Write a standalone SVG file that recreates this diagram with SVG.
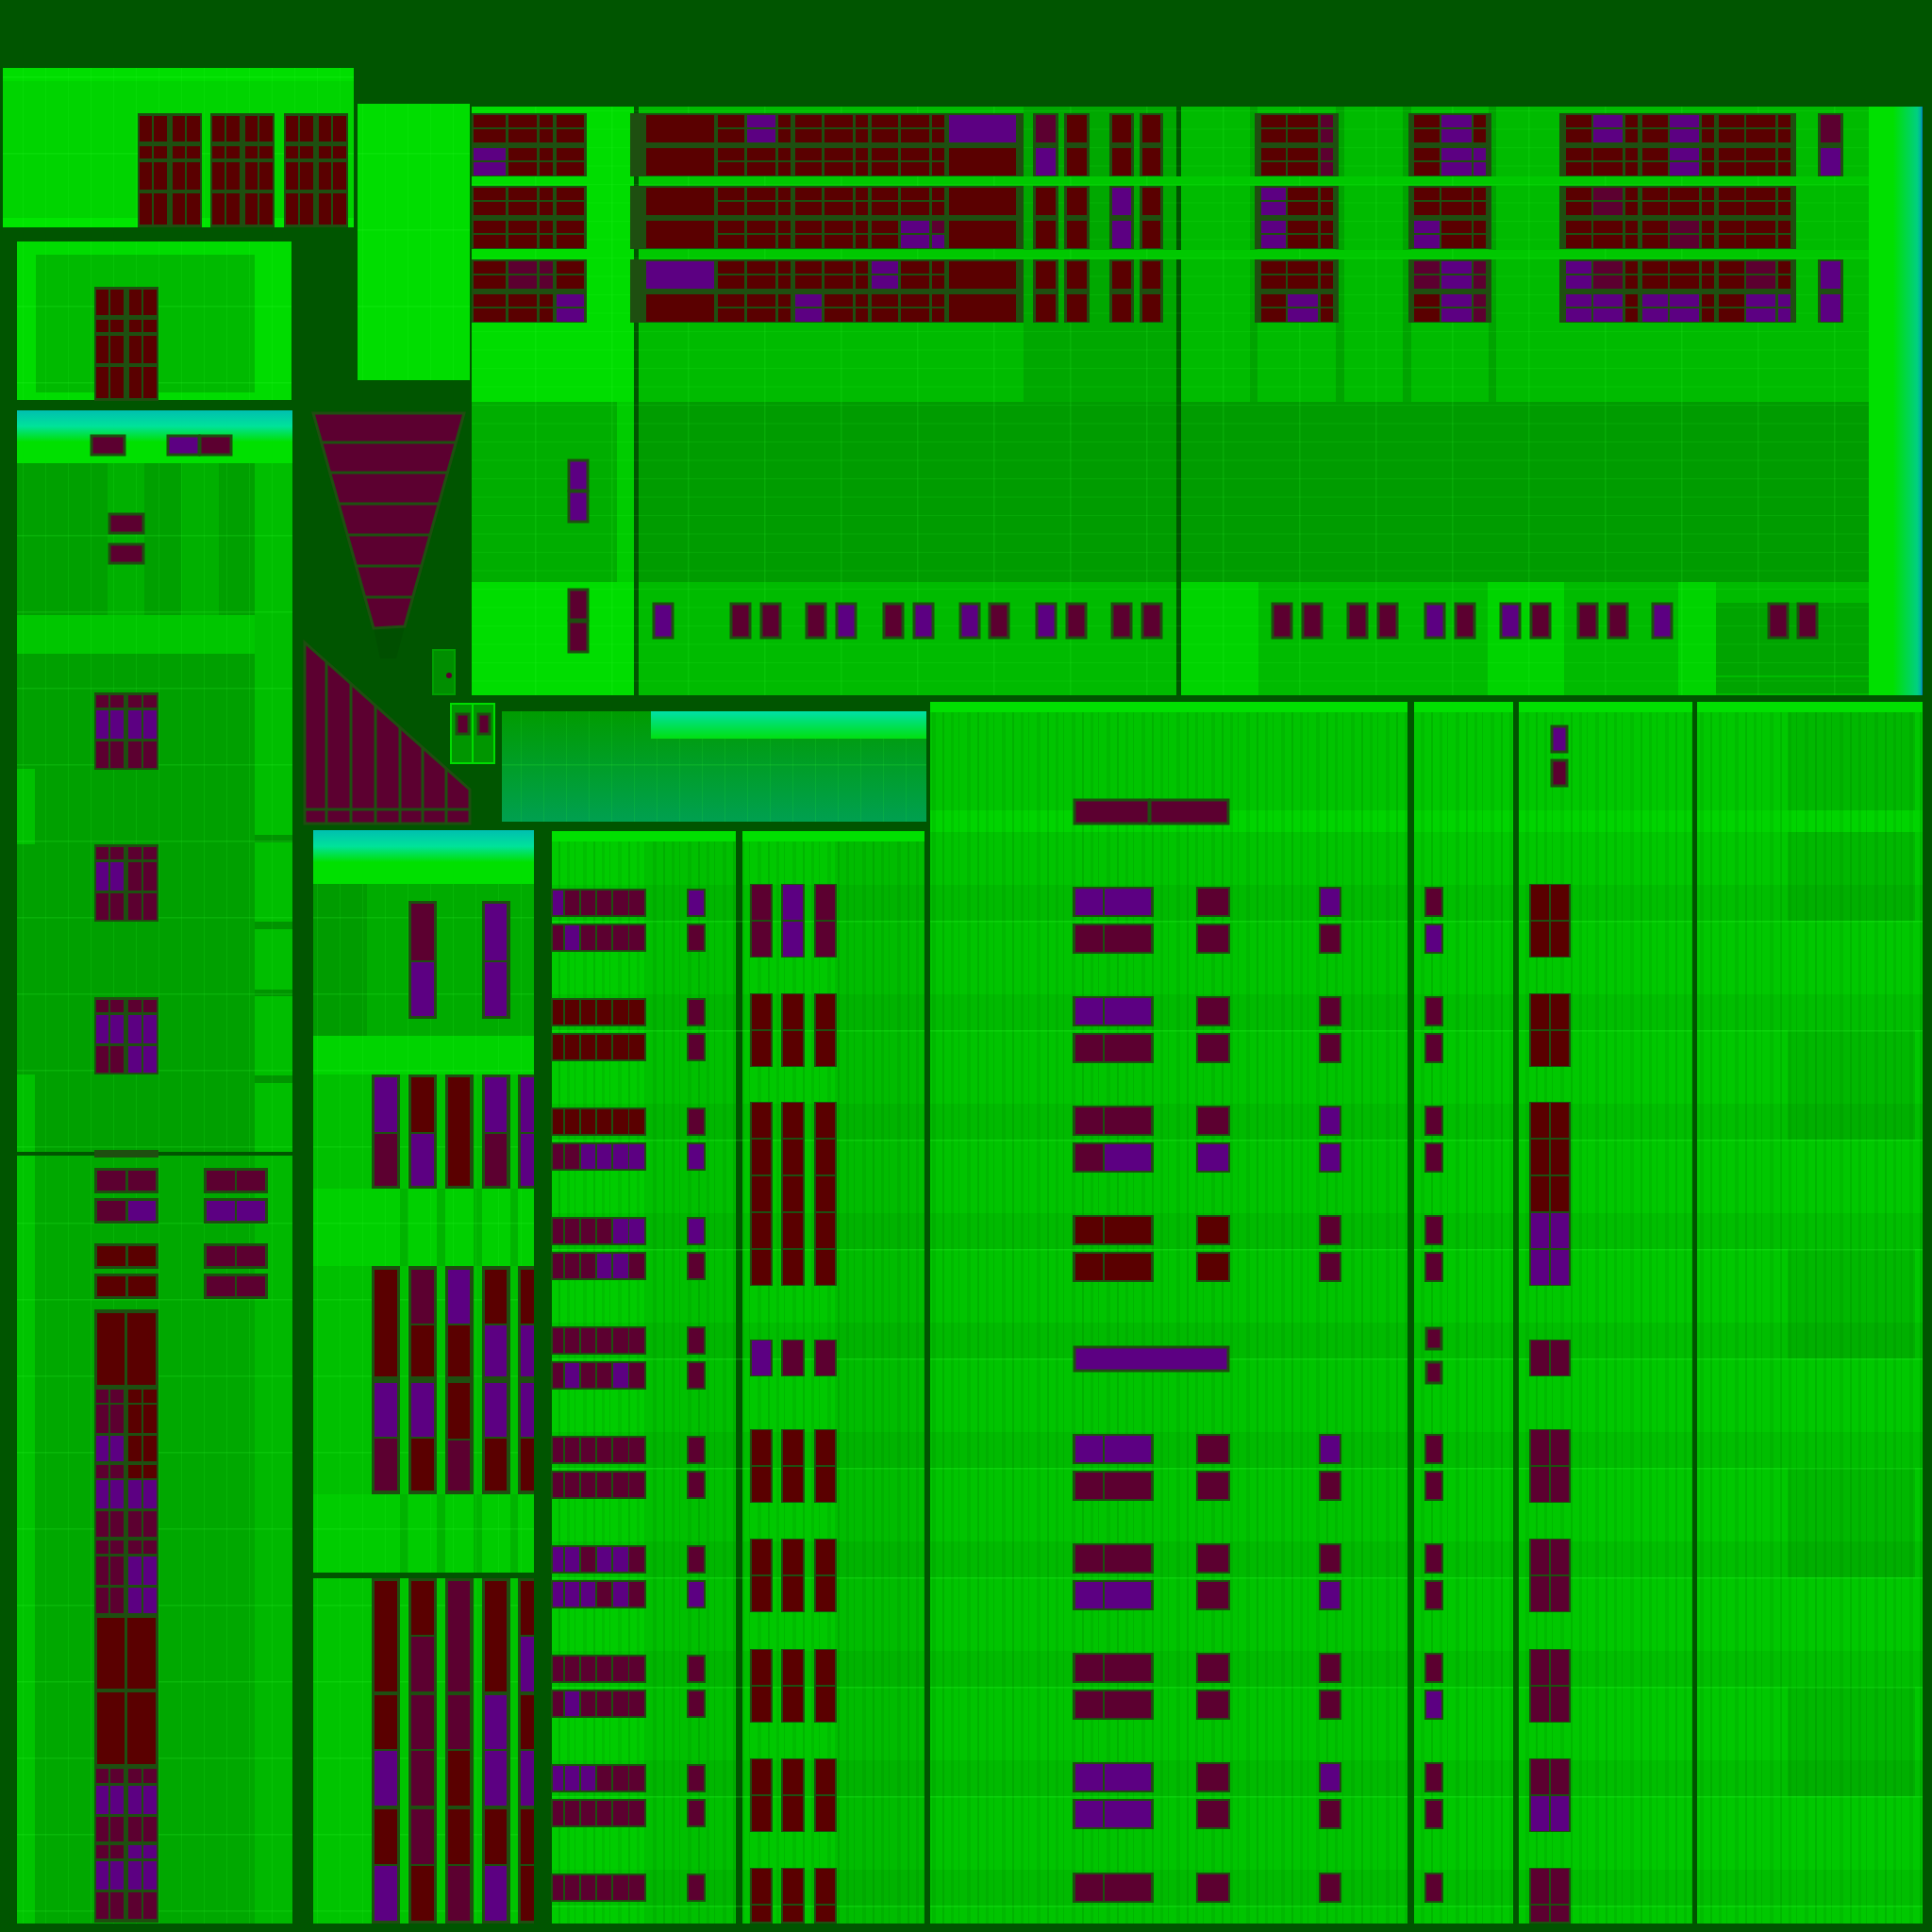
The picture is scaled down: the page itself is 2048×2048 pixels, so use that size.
<svg xmlns="http://www.w3.org/2000/svg" width="2048" height="2048" viewBox="0 0 2048 2048">
<style>
.r{fill:#5a0000}.m{fill:#5c0030}.p{fill:#5c0082}.k{fill:#1e4f10}
.s{stroke:#1e4f10;stroke-width:3}
.ln{stroke:#1e5010;stroke-width:3;fill:none}
</style>
<defs>
<linearGradient id="teal" x1="0" y1="0" x2="0" y2="1"><stop offset="0" stop-color="#00bfb0"/><stop offset=".3" stop-color="#00e29a"/><stop offset=".6" stop-color="#00e000"/><stop offset="1" stop-color="#00e000"/></linearGradient>
<linearGradient id="gG" x1="0" y1="0" x2="0" y2="1"><stop offset="0" stop-color="#009c00"/><stop offset="1" stop-color="#00a050"/></linearGradient>
<linearGradient id="cy" x1="0" y1="0" x2="0" y2="1"><stop offset="0" stop-color="#00e0a8"/><stop offset="1" stop-color="#00e010"/></linearGradient>
<linearGradient id="edge" x1="0" y1="0" x2="1" y2="0"><stop offset="0" stop-color="#00e000"/><stop offset=".45" stop-color="#00e000"/><stop offset=".9" stop-color="#00d080"/><stop offset=".97" stop-color="#00b0a0"/><stop offset="1" stop-color="#0070c0"/></linearGradient>
<pattern id="vs" width="37" height="10" patternUnits="userSpaceOnUse"><rect width="2" height="10" fill="#003000" opacity=".12"/><rect x="9" width="3" height="10" fill="#003000" opacity=".08"/><rect x="17" width="1" height="10" fill="#003000" opacity=".1"/><rect x="26" width="4" height="10" fill="#003000" opacity=".07"/></pattern>
<pattern id="gl" width="24" height="81" patternUnits="userSpaceOnUse"><rect width="1" height="81" fill="#30ff30" opacity=".12"/><rect width="24" height="1.5" fill="#30ff30" opacity=".18"/></pattern>
<pattern id="gf" width="81" height="19.5" patternUnits="userSpaceOnUse"><rect width="1.5" height="19.5" fill="#30ff30" opacity=".15"/><rect width="81" height="1" fill="#30ff30" opacity=".12"/></pattern>
<pattern id="hb" width="10" height="116" patternUnits="userSpaceOnUse"><rect y="48" width="10" height="1.5" fill="#30ff30" opacity=".25"/><rect y="10" width="10" height="38" fill="#006000" opacity=".1"/></pattern>
<g id="c4"><rect y="2" width="1" height="13"/><rect y="17" width="1" height="14"/><rect y="37" width="1" height="13"/><rect y="52" width="1" height="14"/></g>
<g id="c4x3"><use href="#c4"/><use href="#c4" y="77"/><use href="#c4" y="155"/></g>
<g id="c2"><rect y="2" width="1" height="29"/><rect y="37" width="1" height="29"/></g>
<g id="c2x3"><use href="#c2"/><use href="#c2" y="77"/><use href="#c2" y="155"/></g>
<g id="a4"><rect y="3" width="1" height="27"/><rect y="35" width="1" height="13"/><rect y="52" width="1" height="29"/><rect y="85" width="1" height="33"/></g>
<g id="memA"><rect class="k" width="68" height="121"/><g class="r"><use href="#a4" transform="translate(2,0) scale(13,1)"/><use href="#a4" transform="translate(17,0) scale(14,1)"/><use href="#a4" transform="translate(37,0) scale(13,1)"/><use href="#a4" transform="translate(52,0) scale(14,1)"/></g></g>
<g id="d3"><rect y="3" width="1" height="13"/><rect y="19" width="1" height="30"/><rect y="52" width="1" height="28"/></g>
<g id="memD"><rect class="k" width="68" height="82"/><g class="m"><use href="#d3" transform="translate(2,0) scale(13,1)"/><use href="#d3" transform="translate(17,0) scale(14,1)"/><use href="#d3" transform="translate(36,0) scale(14,1)"/><use href="#d3" transform="translate(52,0) scale(14,1)"/></g></g>
<g id="e2l"><rect x="102" width="13" height="1"/><rect x="117" width="14" height="1"/></g>
<g id="e2r"><rect x="136" width="14" height="1"/><rect x="152" width="14" height="1"/></g>
<g id="i6"><rect class="k" x="584" y="-2" width="101" height="30"/><rect x="586" width="11" height="26"/><rect x="599" width="15" height="26"/><rect x="616" width="15" height="26"/><rect x="633" width="15" height="26"/><rect x="650" width="16" height="26"/><rect x="667" width="16" height="26"/><rect class="k" x="728" y="-2" width="20" height="30"/><rect x="730" width="16" height="26"/></g>
<g id="h1"><rect class="k" x="1137" y="-2" width="86" height="32"/><rect x="1140" width="29" height="28"/><rect x="1171" width="49" height="28"/><rect class="k" x="1268" y="-2" width="36" height="32"/><rect x="1270" width="32" height="28"/><rect class="k" x="1398" y="-2" width="24" height="32"/><rect x="1400" width="20" height="28"/><rect class="k" x="1510" y="-2" width="20" height="32"/><rect x="1512" width="16" height="28"/></g>
<g id="h3r"><rect class="k" x="1621" y="-1" width="44" height="39"/><rect x="1623" width="19" height="37"/><rect x="1644" width="19" height="37"/></g>
<g id="i2r"><rect class="k" x="795" y="-1" width="24" height="39"/><rect x="797" width="20" height="37"/><rect class="k" x="828" y="-1" width="25" height="39"/><rect x="830" width="21" height="37"/><rect class="k" x="863" y="-1" width="24" height="39"/><rect x="865" width="20" height="37"/></g>
</defs>
<rect width="2048" height="2048" fill="#005500"/>

<g id="blockA">
<rect x="3" y="72" width="372" height="169" fill="#00d400"/>
<rect x="3" y="72" width="372" height="14" fill="#00de00"/>
<rect x="3" y="231" width="372" height="10" fill="#00e600"/>
<rect x="3" y="72" width="372" height="169" fill="url(#gl)"/>
<use href="#memA" x="146" y="120"/><use href="#memA" x="223" y="120"/><use href="#memA" x="301" y="120"/>
</g>
<g id="blockB">
<rect x="18" y="256" width="291" height="168" fill="#00dc00"/>
<rect x="38" y="270" width="232" height="146" fill="#00ba00"/>
<rect x="18" y="256" width="291" height="168" fill="url(#gl)"/>
<use href="#memA" x="100" y="304"/>
</g>
<g id="blockC">
<rect x="379" y="110" width="119" height="293" fill="#00dd00"/>
<rect x="379" y="110" width="119" height="293" fill="url(#gl)"/>
</g>

<g id="funnel">
<polygon points="396,666 429,664 420,698 403,698" fill="#004f00"/>
<polygon points="332,438 492,438 429,664 396,666" class="m s"/>
<path class="ln" d="M341 469H483M350 501H474M359 534H465M368 567H456M377 600H447M387 633H438"/>
</g>
<g id="stairs">
<polygon points="323,681 498,837 498,873 323,873" class="m s"/>
<path class="ln" d="M346 702V873M372 725V873M398 748V873M424 771V873M448 792V873M473 815V873M323 858H498"/>
</g>
<g id="door">
<rect x="459" y="689" width="23" height="47" fill="#008e00" stroke="#00a000" stroke-width="2"/>
<circle cx="476" cy="716" r="3" class="m"/>
</g>
<g id="dual">
<rect x="478" y="746" width="46" height="63" fill="#009600" stroke="#00dd00" stroke-width="2"/>
<path d="M501 746V809" stroke="#00dd00" stroke-width="2"/>
<rect class="m s" x="484" y="757" width="13" height="21"/>
<rect class="m s" x="507" y="757" width="12" height="21"/>
</g>

<g id="blockD">
<rect x="18" y="435" width="292" height="786" fill="#00a000"/>
<rect x="114" y="491" width="39" height="161" fill="#00b000"/>
<rect x="192" y="491" width="40" height="161" fill="#00b000"/>
<rect x="270" y="491" width="40" height="730" fill="#00be00"/>
<rect x="18" y="652" width="252" height="41" fill="#00c600"/>
<rect x="18" y="815" width="19" height="80" fill="#00c000"/>
<rect x="18" y="1139" width="19" height="82" fill="#00c000"/>
<rect x="270" y="885" width="40" height="8" fill="#009400"/>
<rect x="270" y="977" width="40" height="8" fill="#009400"/>
<rect x="270" y="1049" width="40" height="7" fill="#009400"/>
<rect x="270" y="1140" width="40" height="8" fill="#009400"/>
<rect x="18" y="435" width="292" height="786" fill="url(#gl)"/>
<rect x="18" y="435" width="292" height="56" fill="url(#teal)"/>
<rect class="m s" x="97" y="462" width="35" height="20"/>
<rect class="p s" x="178" y="462" width="33" height="20"/>
<rect class="m s" x="212" y="462" width="33" height="20"/>
<rect class="m s" x="116" y="545" width="36" height="20"/>
<rect class="m s" x="116" y="577" width="36" height="20"/>
<use href="#memD" x="100" y="734"/><use href="#memD" x="100" y="895"/><use href="#memD" x="100" y="1057"/>
<g class="p">
<rect x="102" y="753" width="13" height="30"/><rect x="117" y="753" width="14" height="30"/><rect x="136" y="753" width="14" height="30"/><rect x="152" y="753" width="14" height="30"/>
<rect x="102" y="914" width="13" height="30"/><rect x="117" y="914" width="14" height="30"/>
<rect x="102" y="1076" width="13" height="30"/><rect x="117" y="1076" width="14" height="30"/><rect x="136" y="1076" width="14" height="30"/><rect x="152" y="1076" width="14" height="30"/>
<rect x="136" y="1109" width="14" height="28"/><rect x="152" y="1109" width="14" height="28"/>
</g>
</g>

<g id="blockE">
<rect x="18" y="1225" width="292" height="814" fill="#00a800"/>
<rect x="18" y="1225" width="19" height="814" fill="#00c400"/>
<rect x="270" y="1225" width="40" height="814" fill="#00b800"/>
<rect x="18" y="1225" width="292" height="814" fill="url(#gl)"/>
<rect class="k" x="100" y="1219" width="68" height="8"/>
<rect class="k" x="100" y="1238" width="68" height="27"/><rect class="k" x="216" y="1238" width="68" height="27"/>
<rect class="k" x="100" y="1270" width="68" height="27"/><rect class="k" x="216" y="1270" width="68" height="27"/>
<rect class="k" x="100" y="1318" width="68" height="27"/><rect class="k" x="216" y="1318" width="68" height="27"/>
<rect class="k" x="100" y="1350" width="68" height="27"/><rect class="k" x="216" y="1350" width="68" height="27"/>
<rect class="m" x="103" y="1241" width="30" height="21"/><rect class="m" x="136" y="1241" width="29" height="21"/><rect class="m" x="219" y="1241" width="30" height="21"/><rect class="m" x="251" y="1241" width="30" height="21"/>
<rect class="m" x="103" y="1273" width="30" height="21"/><rect class="p" x="136" y="1273" width="29" height="21"/><rect class="p" x="219" y="1273" width="30" height="21"/><rect class="p" x="251" y="1273" width="30" height="21"/>
<rect class="r" x="103" y="1321" width="30" height="21"/><rect class="r" x="136" y="1321" width="29" height="21"/><rect class="m" x="219" y="1321" width="30" height="21"/><rect class="m" x="251" y="1321" width="30" height="21"/>
<rect class="r" x="103" y="1353" width="30" height="21"/><rect class="r" x="136" y="1353" width="29" height="21"/><rect class="m" x="219" y="1353" width="30" height="21"/><rect class="m" x="251" y="1353" width="30" height="21"/>
<rect class="k" x="100" y="1388" width="68" height="650"/>
<rect class="r" x="103" y="1392" width="29" height="76"/><rect class="r" x="135" y="1392" width="30" height="76"/>
<rect class="r" x="103" y="1715" width="29" height="75"/><rect class="r" x="135" y="1715" width="30" height="75"/>
<rect class="r" x="103" y="1794" width="29" height="76"/><rect class="r" x="135" y="1794" width="30" height="76"/>
<use href="#e2l" class="m" transform="translate(0,1473) scale(1,14)"/><use href="#e2r" class="r" transform="translate(0,1473) scale(1,14)"/>
<use href="#e2l" class="m" transform="translate(0,1489) scale(1,30)"/><use href="#e2r" class="r" transform="translate(0,1489) scale(1,30)"/>
<use href="#e2l" class="p" transform="translate(0,1522) scale(1,27)"/><use href="#e2r" class="r" transform="translate(0,1522) scale(1,27)"/>
<use href="#e2l" class="m" transform="translate(0,1553) scale(1,14)"/><use href="#e2r" class="r" transform="translate(0,1553) scale(1,14)"/>
<use href="#e2l" class="p" transform="translate(0,1569) scale(1,30)"/><use href="#e2r" class="p" transform="translate(0,1569) scale(1,30)"/>
<use href="#e2l" class="m" transform="translate(0,1602) scale(1,27)"/><use href="#e2r" class="m" transform="translate(0,1602) scale(1,27)"/>
<use href="#e2l" class="m" transform="translate(0,1633) scale(1,14)"/><use href="#e2r" class="m" transform="translate(0,1633) scale(1,14)"/>
<use href="#e2l" class="m" transform="translate(0,1650) scale(1,30)"/><use href="#e2r" class="p" transform="translate(0,1650) scale(1,30)"/>
<use href="#e2l" class="m" transform="translate(0,1683) scale(1,27)"/><use href="#e2r" class="p" transform="translate(0,1683) scale(1,27)"/>
<use href="#e2l" class="m" transform="translate(0,1875) scale(1,15)"/><use href="#e2r" class="m" transform="translate(0,1875) scale(1,15)"/>
<use href="#e2l" class="p" transform="translate(0,1893) scale(1,30)"/><use href="#e2r" class="p" transform="translate(0,1893) scale(1,30)"/>
<use href="#e2l" class="m" transform="translate(0,1926) scale(1,26)"/><use href="#e2r" class="m" transform="translate(0,1926) scale(1,26)"/>
<use href="#e2l" class="m" transform="translate(0,1956) scale(1,14)"/><use href="#e2r" class="p" transform="translate(0,1956) scale(1,14)"/>
<use href="#e2l" class="p" transform="translate(0,1973) scale(1,30)"/><use href="#e2r" class="p" transform="translate(0,1973) scale(1,30)"/>
<use href="#e2l" class="m" transform="translate(0,2006) scale(1,28)"/><use href="#e2r" class="m" transform="translate(0,2006) scale(1,28)"/>
</g>

<g id="blockJ1">
<rect x="332" y="880" width="234" height="787" fill="#00c000"/>
<rect x="332" y="937" width="234" height="161" fill="#00ac00"/>
<rect x="332" y="937" width="57" height="161" fill="#009c00"/>
<rect x="332" y="1098" width="234" height="41" fill="#00d400"/>
<rect x="332" y="1260" width="234" height="82" fill="#00d000"/>
<rect x="332" y="1584" width="234" height="83" fill="#00cc00"/>
<g fill="#00b400"><rect x="424" y="1260" width="9" height="82"/><rect x="463" y="1260" width="9" height="82"/><rect x="502" y="1260" width="9" height="82"/><rect x="541" y="1260" width="8" height="82"/><rect x="424" y="1584" width="9" height="83"/><rect x="463" y="1584" width="9" height="83"/><rect x="502" y="1584" width="9" height="83"/><rect x="541" y="1584" width="8" height="83"/></g>
<rect x="332" y="880" width="234" height="787" fill="url(#gl)"/>
<rect x="332" y="880" width="234" height="57" fill="url(#teal)"/>
<rect class="k" x="433" y="955" width="30" height="125"/><rect class="m" x="436" y="958" width="24" height="60"/><rect class="p" x="436" y="1020" width="24" height="57"/>
<rect class="k" x="511" y="955" width="30" height="125"/><rect class="p" x="514" y="958" width="23" height="60"/><rect class="p" x="514" y="1020" width="23" height="57"/>
<g class="k"><rect x="394" y="1139" width="30" height="121"/><rect x="433" y="1139" width="30" height="121"/><rect x="472" y="1139" width="30" height="121"/><rect x="511" y="1139" width="30" height="121"/><rect x="549" y="1139" width="17" height="121"/>
<rect x="394" y="1342" width="30" height="242"/><rect x="433" y="1342" width="30" height="242"/><rect x="472" y="1342" width="30" height="242"/><rect x="511" y="1342" width="30" height="242"/><rect x="549" y="1342" width="17" height="242"/></g>
<rect class="p" x="397" y="1142" width="24" height="58"/><rect class="m" x="397" y="1202" width="24" height="55"/>
<rect class="r" x="436" y="1142" width="24" height="58"/><rect class="p" x="436" y="1202" width="24" height="55"/>
<rect class="r" x="475" y="1142" width="23" height="115"/>
<rect class="p" x="514" y="1142" width="23" height="58"/><rect class="m" x="514" y="1202" width="23" height="55"/>
<rect class="p" x="552" y="1142" width="14" height="58"/><rect class="p" x="552" y="1202" width="14" height="55"/>
<rect class="r" x="397" y="1346" width="24" height="113"/><rect class="p" x="397" y="1466" width="24" height="57"/><rect class="m" x="397" y="1525" width="24" height="55"/>
<rect class="m" x="436" y="1346" width="24" height="57"/><rect class="r" x="436" y="1405" width="24" height="54"/><rect class="p" x="436" y="1466" width="24" height="57"/><rect class="r" x="436" y="1525" width="24" height="55"/>
<rect class="p" x="475" y="1346" width="23" height="57"/><rect class="r" x="475" y="1405" width="23" height="54"/><rect class="r" x="475" y="1466" width="23" height="59"/><rect class="m" x="475" y="1527" width="23" height="53"/>
<rect class="r" x="514" y="1346" width="23" height="57"/><rect class="p" x="514" y="1405" width="23" height="54"/><rect class="p" x="514" y="1466" width="23" height="57"/><rect class="r" x="514" y="1525" width="23" height="55"/>
<rect class="r" x="552" y="1346" width="14" height="57"/><rect class="p" x="552" y="1405" width="14" height="54"/><rect class="p" x="552" y="1466" width="14" height="57"/><rect class="r" x="552" y="1525" width="14" height="55"/>
</g>

<g id="blockJ2">
<rect x="332" y="1673" width="234" height="366" fill="#00c400"/>
<rect x="332" y="1673" width="234" height="366" fill="url(#gl)"/>
<g class="k"><rect x="394" y="1673" width="30" height="366"/><rect x="433" y="1673" width="30" height="366"/><rect x="472" y="1673" width="30" height="366"/><rect x="511" y="1673" width="30" height="366"/><rect x="549" y="1673" width="17" height="366"/></g>
<rect class="r" x="397" y="1676" width="24" height="117"/><rect class="r" x="397" y="1797" width="24" height="57"/><rect class="p" x="397" y="1856" width="24" height="58"/><rect class="r" x="397" y="1918" width="24" height="58"/><rect class="p" x="397" y="1978" width="24" height="58"/>
<rect class="r" x="436" y="1676" width="24" height="57"/><rect class="m" x="436" y="1735" width="24" height="58"/><rect class="m" x="436" y="1797" width="24" height="57"/><rect class="m" x="436" y="1856" width="24" height="58"/><rect class="m" x="436" y="1918" width="24" height="58"/><rect class="r" x="436" y="1978" width="24" height="58"/>
<rect class="m" x="475" y="1676" width="23" height="117"/><rect class="m" x="475" y="1797" width="23" height="57"/><rect class="r" x="475" y="1856" width="23" height="58"/><rect class="r" x="475" y="1918" width="23" height="58"/><rect class="m" x="475" y="1978" width="23" height="58"/>
<rect class="r" x="514" y="1676" width="23" height="117"/><rect class="p" x="514" y="1797" width="23" height="57"/><rect class="p" x="514" y="1856" width="23" height="58"/><rect class="r" x="514" y="1918" width="23" height="58"/><rect class="p" x="514" y="1978" width="23" height="58"/>
<rect class="r" x="552" y="1676" width="14" height="57"/><rect class="p" x="552" y="1735" width="14" height="58"/><rect class="r" x="552" y="1797" width="14" height="57"/><rect class="p" x="552" y="1856" width="14" height="58"/><rect class="r" x="552" y="1918" width="14" height="58"/><rect class="r" x="552" y="1978" width="14" height="58"/>
</g>

<g id="blockG">
<rect x="532" y="754" width="450" height="117" fill="url(#gG)"/>
<rect x="532" y="754" width="450" height="117" fill="url(#gl)"/>
<rect x="690" y="754" width="292" height="29" fill="url(#cy)"/>
</g>

<g id="blockF">
<rect x="500" y="113" width="172" height="313" fill="#00dd00"/>
<rect x="500" y="426" width="172" height="191" fill="#00ae00"/>
<rect x="654" y="426" width="18" height="191" fill="#00cc00"/>
<rect x="500" y="617" width="172" height="120" fill="#00dd00"/>
<rect x="677" y="113" width="570" height="313" fill="#00bb00"/>
<rect x="1085" y="113" width="162" height="313" fill="#00a800"/>
<rect x="677" y="426" width="570" height="191" fill="#009c00"/>
<rect x="677" y="617" width="570" height="120" fill="#00bb00"/>
<rect x="1252" y="113" width="729" height="313" fill="#00bb00"/>
<g fill="#00a400"><rect x="1325" y="113" width="8" height="313"/><rect x="1416" y="113" width="9" height="313"/><rect x="1487" y="113" width="9" height="313"/><rect x="1578" y="113" width="8" height="313"/></g>
<rect x="1252" y="426" width="729" height="191" fill="#009c00"/>
<rect x="1252" y="617" width="729" height="120" fill="#00bb00"/>
<g fill="#00d400"><rect x="1252" y="617" width="82" height="120"/><rect x="1577" y="617" width="81" height="120"/><rect x="1779" y="617" width="40" height="120"/></g>
<rect x="1819" y="639" width="162" height="77" fill="#00a400"/>
<rect x="1819" y="718" width="162" height="17" fill="#00a400"/>
<rect x="677" y="187" width="1304" height="10" fill="#00c800"/>
<rect x="677" y="265" width="1304" height="10" fill="#00c800"/>
<rect x="500" y="113" width="1481" height="624" fill="url(#gf)"/>
<rect x="1981" y="113" width="57" height="624" fill="url(#edge)"/>
<g class="k">
<rect x="500" y="120" width="122" height="67"/><rect x="500" y="197" width="122" height="67"/><rect x="500" y="275" width="122" height="67"/>
<rect x="668" y="120" width="417" height="67"/><rect x="668" y="197" width="417" height="67"/><rect x="668" y="275" width="417" height="67"/>
<rect x="1095" y="120" width="27" height="67"/><rect x="1095" y="197" width="27" height="67"/><rect x="1095" y="275" width="27" height="67"/>
<rect x="1128" y="120" width="27" height="67"/><rect x="1128" y="197" width="27" height="67"/><rect x="1128" y="275" width="27" height="67"/>
<rect x="1176" y="120" width="26" height="67"/><rect x="1176" y="197" width="26" height="67"/><rect x="1176" y="275" width="26" height="67"/>
<rect x="1208" y="120" width="25" height="67"/><rect x="1208" y="197" width="25" height="67"/><rect x="1208" y="275" width="25" height="67"/>
<rect x="1330" y="120" width="89" height="67"/><rect x="1330" y="197" width="89" height="67"/><rect x="1330" y="275" width="89" height="67"/>
<rect x="1493" y="120" width="88" height="67"/><rect x="1493" y="197" width="88" height="67"/><rect x="1493" y="275" width="88" height="67"/>
<rect x="1653" y="120" width="251" height="67"/><rect x="1653" y="197" width="251" height="67"/><rect x="1653" y="275" width="251" height="67"/>
<rect x="1927" y="120" width="27" height="67"/><rect x="1927" y="275" width="27" height="67"/>
</g>
<g class="r">
<use href="#c4x3" transform="translate(502,120) scale(34,1)"/><use href="#c4x3" transform="translate(539,120) scale(30,1)"/><use href="#c4x3" transform="translate(572,120) scale(14,1)"/><use href="#c4x3" transform="translate(590,120) scale(29,1)"/>
<use href="#c2x3" transform="translate(685,120) scale(72,1)"/>
<use href="#c4x3" transform="translate(761,120) scale(28,1)"/><use href="#c4x3" transform="translate(792,120) scale(30,1)"/><use href="#c4x3" transform="translate(825,120) scale(13,1)"/>
<use href="#c4x3" transform="translate(843,120) scale(28,1)"/><use href="#c4x3" transform="translate(874,120) scale(30,1)"/><use href="#c4x3" transform="translate(907,120) scale(13,1)"/>
<use href="#c4x3" transform="translate(924,120) scale(28,1)"/><use href="#c4x3" transform="translate(955,120) scale(30,1)"/><use href="#c4x3" transform="translate(988,120) scale(13,1)"/>
<use href="#c2x3" transform="translate(1006,120) scale(71,1)"/>
<use href="#c2x3" transform="translate(1098,120) scale(21,1)"/><use href="#c2x3" transform="translate(1131,120) scale(21,1)"/><use href="#c2x3" transform="translate(1179,120) scale(20,1)"/><use href="#c2x3" transform="translate(1211,120) scale(19,1)"/>
<use href="#c4x3" transform="translate(1337,120) scale(26,1)"/><use href="#c4x3" transform="translate(1365,120) scale(32,1)"/><use href="#c4x3" transform="translate(1400,120) scale(13,1)"/>
<use href="#c4x3" transform="translate(1499,120) scale(27,1)"/><use href="#c4x3" transform="translate(1528,120) scale(32,1)"/><use href="#c4x3" transform="translate(1562,120) scale(13,1)"/>
<use href="#c4x3" transform="translate(1660,120) scale(27,1)"/><use href="#c4x3" transform="translate(1689,120) scale(31,1)"/><use href="#c4x3" transform="translate(1723,120) scale(13,1)"/>
<use href="#c4x3" transform="translate(1741,120) scale(27,1)"/><use href="#c4x3" transform="translate(1770,120) scale(31,1)"/><use href="#c4x3" transform="translate(1804,120) scale(13,1)"/>
<use href="#c4x3" transform="translate(1822,120) scale(27,1)"/><use href="#c4x3" transform="translate(1851,120) scale(31,1)"/><use href="#c4x3" transform="translate(1885,120) scale(13,1)"/>
<use href="#c2" transform="translate(1930,120) scale(21,1)"/><use href="#c2" transform="translate(1930,275) scale(21,1)"/>
</g>
<g class="p">
<rect x="502" y="157" width="34" height="13"/><rect x="502" y="172" width="34" height="14"/>
<rect x="590" y="312" width="29" height="13"/><rect x="590" y="327" width="29" height="14"/>
<rect x="792" y="122" width="30" height="13"/><rect x="792" y="137" width="30" height="14"/>
<rect x="1006" y="122" width="71" height="29"/>
<rect x="955" y="234" width="30" height="13"/><rect x="955" y="249" width="30" height="14"/><rect x="988" y="249" width="13" height="14"/>
<rect x="685" y="277" width="72" height="29"/>
<rect x="924" y="277" width="28" height="13"/><rect x="924" y="292" width="28" height="14"/>
<rect x="843" y="312" width="28" height="13"/><rect x="843" y="327" width="28" height="14"/>
<rect x="1098" y="157" width="21" height="29"/>
<rect x="1179" y="199" width="20" height="29"/><rect x="1179" y="234" width="20" height="29"/>
<rect x="1337" y="199" width="26" height="13"/><rect x="1337" y="214" width="26" height="14"/><rect x="1337" y="234" width="26" height="13"/><rect x="1337" y="249" width="26" height="14"/>
<rect x="1365" y="312" width="32" height="13"/><rect x="1365" y="327" width="32" height="14"/>
<rect x="1528" y="122" width="32" height="13"/><rect x="1528" y="137" width="32" height="14"/><rect x="1528" y="157" width="32" height="13"/><rect x="1528" y="172" width="32" height="14"/>
<rect x="1562" y="157" width="13" height="13"/><rect x="1562" y="172" width="13" height="14"/>
<rect x="1499" y="234" width="27" height="13"/><rect x="1499" y="249" width="27" height="14"/>
<rect x="1528" y="277" width="32" height="13"/><rect x="1528" y="292" width="32" height="14"/><rect x="1528" y="312" width="32" height="13"/><rect x="1528" y="327" width="32" height="14"/>
<rect x="1689" y="122" width="31" height="13"/><rect x="1689" y="137" width="31" height="14"/>
<rect x="1770" y="122" width="31" height="13"/><rect x="1770" y="137" width="31" height="14"/><rect x="1770" y="157" width="31" height="13"/><rect x="1770" y="172" width="31" height="14"/>
<rect x="1660" y="277" width="27" height="13"/><rect x="1660" y="292" width="27" height="14"/>
<rect x="1660" y="312" width="27" height="13"/><rect x="1660" y="327" width="27" height="14"/><rect x="1689" y="312" width="31" height="13"/><rect x="1689" y="327" width="31" height="14"/>
<rect x="1741" y="312" width="27" height="13"/><rect x="1741" y="327" width="27" height="14"/><rect x="1770" y="312" width="31" height="13"/><rect x="1770" y="327" width="31" height="14"/>
<rect x="1851" y="312" width="31" height="13"/><rect x="1851" y="327" width="31" height="14"/><rect x="1885" y="312" width="13" height="13"/><rect x="1885" y="327" width="13" height="14"/>
<rect x="1930" y="157" width="21" height="29"/><rect x="1930" y="277" width="21" height="29"/><rect x="1930" y="312" width="21" height="29"/>
</g>
<g class="m">
<rect x="539" y="277" width="30" height="13"/><rect x="539" y="292" width="30" height="14"/><rect x="572" y="277" width="14" height="13"/><rect x="572" y="292" width="14" height="14"/>
<rect x="988" y="234" width="13" height="13"/>
<rect x="1098" y="122" width="21" height="29"/>
<rect x="1400" y="122" width="13" height="13"/><rect x="1400" y="137" width="13" height="14"/><rect x="1400" y="157" width="13" height="13"/><rect x="1400" y="172" width="13" height="14"/>
<rect x="1499" y="277" width="27" height="13"/><rect x="1499" y="292" width="27" height="14"/>
<rect x="1562" y="277" width="13" height="13"/><rect x="1562" y="292" width="13" height="14"/><rect x="1562" y="312" width="13" height="13"/><rect x="1562" y="327" width="13" height="14"/>
<rect x="1689" y="199" width="31" height="13"/><rect x="1689" y="214" width="31" height="14"/><rect x="1770" y="234" width="31" height="13"/><rect x="1770" y="249" width="31" height="14"/>
<rect x="1689" y="277" width="31" height="13"/><rect x="1689" y="292" width="31" height="14"/><rect x="1851" y="277" width="31" height="13"/><rect x="1851" y="292" width="31" height="14"/>
<rect x="1930" y="122" width="21" height="29"/>
</g>
<rect class="p s" x="603" y="488" width="20" height="32"/><rect class="p s" x="603" y="521" width="20" height="32"/>
<rect class="m s" x="603" y="625" width="20" height="32"/><rect class="m s" x="603" y="659" width="20" height="32"/>
<g class="s">
<rect class="p" x="693" y="640" width="20" height="36"/><rect class="m" x="775" y="640" width="20" height="36"/><rect class="m" x="807" y="640" width="20" height="36"/><rect class="m" x="855" y="640" width="20" height="36"/><rect class="p" x="887" y="640" width="20" height="36"/><rect class="m" x="937" y="640" width="20" height="36"/><rect class="p" x="969" y="640" width="20" height="36"/><rect class="p" x="1018" y="640" width="20" height="36"/><rect class="m" x="1049" y="640" width="20" height="36"/><rect class="p" x="1099" y="640" width="20" height="36"/><rect class="m" x="1131" y="640" width="20" height="36"/><rect class="m" x="1179" y="640" width="20" height="36"/><rect class="m" x="1211" y="640" width="20" height="36"/>
<rect class="m" x="1349" y="640" width="20" height="36"/><rect class="m" x="1381" y="640" width="20" height="36"/><rect class="m" x="1429" y="640" width="20" height="36"/><rect class="m" x="1461" y="640" width="20" height="36"/><rect class="p" x="1511" y="640" width="20" height="36"/><rect class="m" x="1543" y="640" width="20" height="36"/><rect class="p" x="1591" y="640" width="20" height="36"/><rect class="m" x="1623" y="640" width="20" height="36"/><rect class="m" x="1673" y="640" width="20" height="36"/><rect class="m" x="1705" y="640" width="20" height="36"/><rect class="p" x="1752" y="640" width="20" height="36"/><rect class="m" x="1875" y="640" width="20" height="36"/><rect class="m" x="1906" y="640" width="20" height="36"/>
</g>
</g>

<g id="blockI">
<rect x="585" y="881" width="195" height="1158" fill="#00cc00"/>
<rect x="684" y="892" width="96" height="1147" fill="#00c000"/>
<rect x="787" y="881" width="193" height="1158" fill="#00c800"/>
<rect x="885" y="892" width="95" height="1147" fill="#00bc00"/>
<rect x="585" y="881" width="395" height="1158" fill="url(#vs)"/>
<rect x="585" y="881" width="395" height="1158" fill="url(#hb)"/>
<rect x="585" y="881" width="195" height="11" fill="#00e000"/>
<rect x="787" y="881" width="193" height="11" fill="#00e000"/>
<use href="#i6" y="944" class="m"/><use href="#i6" y="981" class="m"/>
<use href="#i6" y="1060" class="r"/><use href="#i6" y="1097" class="r"/><use href="#i6" y="1176" class="r"/>
<use href="#i6" y="1213" class="m"/><use href="#i6" y="1292" class="m"/><use href="#i6" y="1329" class="m"/>
<use href="#i6" y="1408" class="m"/><use href="#i6" y="1445" class="m"/><use href="#i6" y="1524" class="m"/><use href="#i6" y="1561" class="m"/>
<use href="#i6" y="1640" class="m"/><use href="#i6" y="1677" class="m"/><use href="#i6" y="1756" class="m"/><use href="#i6" y="1793" class="m"/>
<use href="#i6" y="1872" class="m"/><use href="#i6" y="1909" class="m"/><use href="#i6" y="1988" class="m"/>
<g class="m"><rect x="730" y="1060" width="16" height="26"/><rect x="730" y="1097" width="16" height="26"/><rect x="730" y="1176" width="16" height="26"/></g>
<g class="p">
<rect x="586" y="944" width="11" height="26"/><rect x="730" y="944" width="16" height="26"/>
<rect x="599" y="981" width="15" height="26"/>
<rect x="616" y="1213" width="15" height="26"/><rect x="633" y="1213" width="15" height="26"/><rect x="650" y="1213" width="16" height="26"/><rect x="667" y="1213" width="16" height="26"/><rect x="730" y="1213" width="16" height="26"/>
<rect x="650" y="1292" width="16" height="26"/><rect x="667" y="1292" width="16" height="26"/><rect x="730" y="1292" width="16" height="26"/>
<rect x="633" y="1329" width="15" height="26"/><rect x="650" y="1329" width="16" height="26"/>
<rect x="599" y="1445" width="15" height="26"/><rect x="650" y="1445" width="16" height="26"/>
<rect x="586" y="1640" width="11" height="26"/><rect x="599" y="1640" width="15" height="26"/><rect x="633" y="1640" width="15" height="26"/><rect x="650" y="1640" width="16" height="26"/>
<rect x="586" y="1677" width="11" height="26"/><rect x="599" y="1677" width="15" height="26"/><rect x="616" y="1677" width="15" height="26"/><rect x="650" y="1677" width="16" height="26"/><rect x="730" y="1677" width="16" height="26"/>
<rect x="599" y="1793" width="15" height="26"/>
<rect x="586" y="1872" width="11" height="26"/><rect x="599" y="1872" width="15" height="26"/><rect x="616" y="1872" width="15" height="26"/>
</g>
<use href="#i2r" y="938" class="m"/><use href="#i2r" y="977" class="m"/>
<rect class="p" x="830" y="938" width="21" height="37"/><rect class="p" x="830" y="977" width="21" height="37"/>
<use href="#i2r" y="1054" class="r"/><use href="#i2r" y="1093" class="r"/>
<use href="#i2r" y="1169" class="r"/><use href="#i2r" y="1208" class="r"/><use href="#i2r" y="1247" class="r"/><use href="#i2r" y="1286" class="r"/><use href="#i2r" y="1325" class="r"/>
<use href="#i2r" y="1421" class="m"/><rect class="p" x="797" y="1421" width="20" height="37"/>
<use href="#i2r" y="1516" class="r"/><use href="#i2r" y="1555" class="r"/>
<use href="#i2r" y="1632" class="r"/><use href="#i2r" y="1671" class="r"/>
<use href="#i2r" y="1749" class="r"/><use href="#i2r" y="1788" class="r"/>
<use href="#i2r" y="1865" class="r"/><use href="#i2r" y="1904" class="r"/>
<use href="#i2r" y="1981" class="r"/>
<g class="k"><rect x="795" y="2019" width="24" height="20"/><rect x="828" y="2019" width="25" height="20"/><rect x="863" y="2019" width="24" height="20"/></g>
<g class="r"><rect x="797" y="2020" width="20" height="17"/><rect x="830" y="2020" width="21" height="17"/><rect x="865" y="2020" width="20" height="17"/></g>
</g>

<g id="blockH">
<rect x="986" y="744" width="506" height="1295" fill="#00c400"/>
<rect x="1499" y="744" width="105" height="1295" fill="#00c800"/>
<rect x="1610" y="744" width="184" height="1295" fill="#00c800"/>
<rect x="1799" y="744" width="239" height="1295" fill="#00c800"/>
<g fill="#00b800"><rect x="1895" y="755" width="135" height="104"/><rect x="1895" y="882" width="135" height="94"/><rect x="1895" y="1092" width="135" height="116"/><rect x="1895" y="1324" width="135" height="116"/><rect x="1895" y="1556" width="135" height="116"/><rect x="1895" y="1788" width="135" height="116"/></g>
<g fill="#00d400"><rect x="986" y="859" width="506" height="23"/><rect x="1499" y="859" width="105" height="23"/><rect x="1610" y="859" width="184" height="23"/><rect x="1799" y="859" width="239" height="23"/></g>
<rect x="986" y="744" width="1052" height="1295" fill="url(#vs)"/>
<rect x="986" y="882" width="1052" height="1157" fill="url(#hb)"/>
<g fill="#005500"><rect x="1492" y="744" width="7" height="1295"/><rect x="1604" y="744" width="6" height="1295"/><rect x="1794" y="744" width="5" height="1295"/></g>
<g fill="#00e000"><rect x="986" y="744" width="506" height="11"/><rect x="1499" y="744" width="105" height="11"/><rect x="1610" y="744" width="184" height="11"/><rect x="1799" y="744" width="239" height="11"/></g>
<rect class="m s" x="1139" y="848" width="79" height="25"/><rect class="m s" x="1219" y="848" width="83" height="25"/>
<use href="#h1" y="942" class="m"/><use href="#h1" y="981" class="m"/><use href="#h1" y="1058" class="m"/><use href="#h1" y="1097" class="m"/>
<use href="#h1" y="1174" class="m"/><use href="#h1" y="1213" class="m"/><use href="#h1" y="1290" class="m"/><use href="#h1" y="1329" class="m"/>
<use href="#h1" y="1522" class="m"/><use href="#h1" y="1561" class="m"/><use href="#h1" y="1638" class="m"/><use href="#h1" y="1677" class="m"/>
<use href="#h1" y="1754" class="m"/><use href="#h1" y="1793" class="m"/><use href="#h1" y="1870" class="m"/><use href="#h1" y="1909" class="m"/><use href="#h1" y="1987" class="m"/>
<g class="p">
<rect x="1140" y="942" width="29" height="28"/><rect x="1171" y="942" width="49" height="28"/><rect x="1400" y="942" width="20" height="28"/>
<rect x="1512" y="981" width="16" height="28"/>
<rect x="1140" y="1058" width="29" height="28"/><rect x="1171" y="1058" width="49" height="28"/>
<rect x="1400" y="1174" width="20" height="28"/>
<rect x="1171" y="1213" width="49" height="28"/><rect x="1270" y="1213" width="32" height="28"/><rect x="1400" y="1213" width="20" height="28"/>
<rect x="1140" y="1522" width="29" height="28"/><rect x="1171" y="1522" width="49" height="28"/><rect x="1400" y="1522" width="20" height="28"/>
<rect x="1140" y="1677" width="29" height="28"/><rect x="1171" y="1677" width="49" height="28"/><rect x="1400" y="1677" width="20" height="28"/>
<rect x="1512" y="1793" width="16" height="28"/>
<rect x="1140" y="1870" width="29" height="28"/><rect x="1171" y="1870" width="49" height="28"/><rect x="1400" y="1870" width="20" height="28"/>
<rect x="1140" y="1909" width="29" height="28"/><rect x="1171" y="1909" width="49" height="28"/>
</g>
<g class="r"><rect x="1140" y="1290" width="29" height="28"/><rect x="1171" y="1290" width="49" height="28"/><rect x="1270" y="1290" width="32" height="28"/><rect x="1140" y="1329" width="29" height="28"/><rect x="1171" y="1329" width="49" height="28"/><rect x="1270" y="1329" width="32" height="28"/></g>
<rect class="p s" x="1139" y="1428" width="163" height="25"/>
<rect class="m s" x="1512" y="1408" width="16" height="22"/><rect class="m s" x="1512" y="1444" width="16" height="22"/>
<rect class="p s" x="1645" y="770" width="16" height="27"/><rect class="m s" x="1645" y="806" width="16" height="27"/>
<use href="#h3r" y="938" class="r"/><use href="#h3r" y="977" class="r"/>
<use href="#h3r" y="1054" class="r"/><use href="#h3r" y="1093" class="r"/>
<use href="#h3r" y="1169" class="r"/><use href="#h3r" y="1208" class="r"/><use href="#h3r" y="1247" class="r"/><use href="#h3r" y="1286" class="p"/><use href="#h3r" y="1325" class="p"/>
<use href="#h3r" y="1421" class="m"/>
<use href="#h3r" y="1516" class="m"/><use href="#h3r" y="1555" class="m"/>
<use href="#h3r" y="1632" class="m"/><use href="#h3r" y="1671" class="m"/>
<use href="#h3r" y="1749" class="m"/><use href="#h3r" y="1788" class="m"/>
<use href="#h3r" y="1865" class="m"/><use href="#h3r" y="1904" class="p"/>
<use href="#h3r" y="1981" class="m"/>
<rect class="k" x="1621" y="2019" width="44" height="20"/><rect class="m" x="1623" y="2020" width="19" height="17"/><rect class="m" x="1644" y="2020" width="19" height="17"/>
</g>
</svg>
